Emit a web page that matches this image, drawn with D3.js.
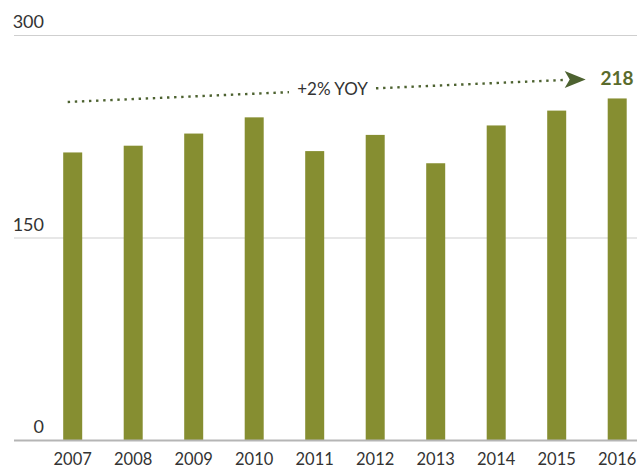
<!DOCTYPE html>
<html><head><meta charset="utf-8">
<script src="https://cdn.jsdelivr.net/npm/d3@7/dist/d3.min.js"></script>
<style>
html,body{margin:0;padding:0;background:#fff;}
svg{display:block;font-family:Lato,"Open Sans",sans-serif;}
</style></head>
<body><div id="chart"></div>
<script>
const years = ["2007","2008","2009","2010","2011","2012","2013","2014","2015","2016"];
const values = [213, 218, 227, 239, 214, 226, 205, 233, 244, 253];
const yTicks = [0, 150, 300];
const trendLabel = "+2% YOY";
const endLabel = "218";
// trend arrow annotation: start/end values (in y units)
const trendStartValue = 250.4;
const trendEndValue = 266.7;

const W = 637, H = 468;
const svg = d3.select("#chart").append("svg").attr("width", W).attr("height", H);

const x = d3.scaleBand().domain(years).range([42.45, 647.45]).paddingInner(0.686).paddingOuter(0.343);
const y = d3.scaleLinear().domain([0, 300]).range([440, 35]);

// gridlines
svg.append("g").selectAll("line").data(yTicks.filter(d => d > 0)).join("line")
  .attr("x1", 14).attr("x2", W)
  .attr("y1", d => y(d) + 0.5).attr("y2", d => y(d) + 0.5)
  .attr("stroke", "#cfcfcf").attr("stroke-width", 1.2);

// y tick labels
svg.append("g").selectAll("text").data(yTicks).join("text")
  .attr("x", 44).attr("y", d => y(d) - 7)
  .attr("text-anchor", "end")
  .attr("font-size", 18).attr("fill", "#333")
  .text(d => d);

// bars
svg.append("g").selectAll("rect").data(values).join("rect")
  .attr("x", (d, i) => x(years[i]))
  .attr("width", x.bandwidth())
  .attr("y", d => y(d))
  .attr("height", d => y(0) - y(d))
  .attr("fill", "#868e31");

// baseline
svg.append("line").attr("x1", 14).attr("x2", W)
  .attr("y1", y(0) + 0.5).attr("y2", y(0) + 0.5)
  .attr("stroke", "#b5b5b5").attr("stroke-width", 2);

// x axis labels
svg.append("g").selectAll("text").data(years).join("text")
  .attr("x", d => x(d) + x.bandwidth() / 2)
  .attr("y", 465)
  .attr("text-anchor", "middle")
  .attr("font-size", 16.5).attr("fill", "#333")
  .text(d => d);

// trend arrow
const x0 = x(years[0]) + x.bandwidth() / 2 - 5;
const x1 = x(years[9]) - 43;
const y0 = y(trendStartValue), y1 = y(trendEndValue);
const yAt = xx => y0 + (y1 - y0) * (xx - x0) / (x1 - x0);
const gapL = 289, gapR = 376;
const dotColor = "#4d6230";
[[x0, gapL], [gapR, x1]].forEach(([a, b]) => {
  svg.append("line").attr("x1", a).attr("y1", yAt(a)).attr("x2", b).attr("y2", yAt(b))
    .attr("stroke", dotColor).attr("stroke-width", 2.4)
    .attr("stroke-dasharray", "2.4 4.7");
});
const tipX = x1 + 21, tipY = yAt(x1) - 0.5;
svg.append("path")
  .attr("d", `M${tipX},${tipY} L${x1},${tipY - 8.5} L${x1 + 5},${tipY} L${x1},${tipY + 8.5} Z`)
  .attr("fill", "#4d6230");

svg.append("text").attr("x", (gapL + gapR) / 2).attr("y", 95)
  .attr("text-anchor", "middle").attr("font-size", 17).attr("fill", "#333")
  .text(trendLabel);

svg.append("text").attr("x", 617).attr("y", 84.5)
  .attr("text-anchor", "middle").attr("font-size", 19).attr("font-weight", "bold")
  .attr("fill", "#5a6b2c")
  .text(endLabel);
</script></body></html>
